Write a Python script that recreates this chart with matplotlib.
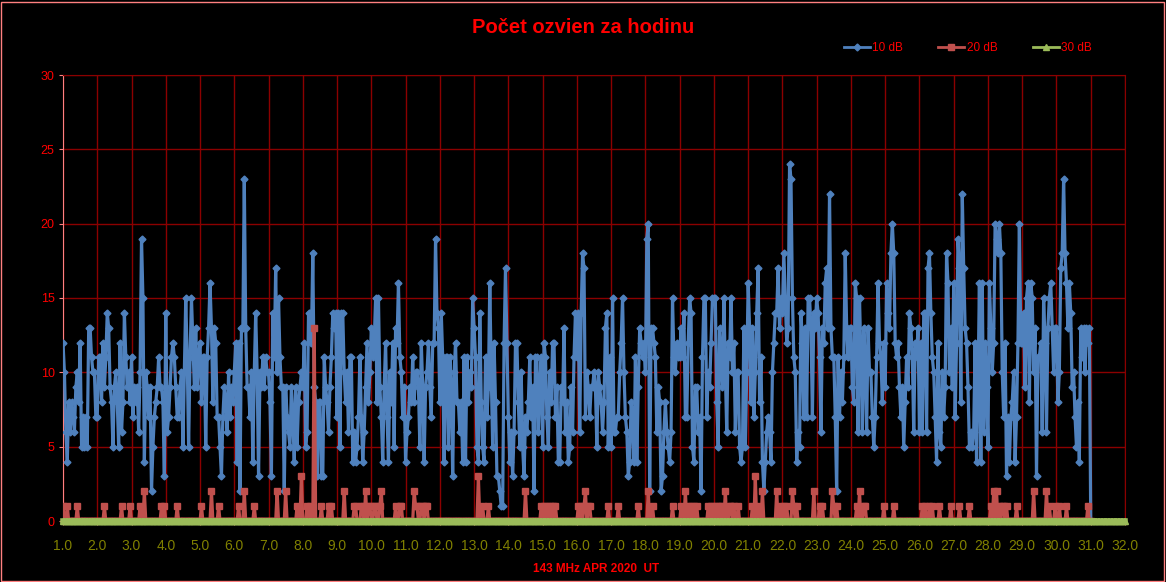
import numpy as np
import matplotlib.pyplot as plt
from matplotlib.patches import Rectangle
from matplotlib.lines import Line2D

plt.rcParams['font.family'] = ['Liberation Sans', 'DejaVu Sans']

# pocet ozvien 10 dB, po hodinach, jeden riadok = jeden den (1.-30. april)
den = [
    [12, 10, 6, 4, 8, 6, 8, 7, 6, 9, 10, 8, 12, 5, 7, 5, 7, 5, 13, 13, 11, 10, 10, 7],
    [7, 11, 11, 8, 12, 9, 11, 14, 13, 9, 8, 5, 9, 10, 8, 5, 12, 6, 8, 14, 11, 9, 10, 8],
    [11, 7, 9, 8, 9, 6, 10, 19, 15, 4, 10, 9, 7, 9, 2, 5, 7, 8, 9, 11, 9, 9, 8, 3],
    [14, 6, 7, 9, 11, 12, 11, 9, 7, 7, 9, 10, 5, 10, 15, 11, 5, 11, 15, 12, 9, 13, 9, 11],
    [12, 8, 11, 11, 5, 11, 13, 16, 13, 8, 13, 12, 7, 7, 5, 3, 7, 9, 8, 6, 10, 7, 9, 8],
    [10, 12, 4, 12, 2, 13, 13, 23, 13, 9, 9, 7, 10, 4, 10, 14, 10, 3, 10, 9, 11, 9, 11, 10],
    [10, 8, 3, 14, 11, 17, 10, 15, 11, 9, 9, 2, 9, 7, 6, 5, 9, 7, 4, 9, 5, 8, 9, 10],
    [9, 12, 5, 6, 14, 14, 12, 18, 9, 8, 3, 8, 8, 3, 3, 11, 9, 8, 6, 9, 11, 14, 13, 14],
    [7, 14, 5, 14, 14, 10, 8, 10, 6, 11, 11, 4, 6, 4, 5, 7, 11, 7, 4, 6, 9, 12, 8, 10],
    [13, 11, 12, 15, 8, 15, 9, 7, 4, 9, 12, 7, 4, 10, 8, 12, 5, 13, 12, 16, 11, 10, 7, 9],
    [4, 6, 7, 9, 8, 11, 8, 10, 10, 9, 5, 12, 9, 4, 9, 10, 12, 9, 7, 12, 12, 19, 14, 13],
    [8, 14, 11, 4, 11, 11, 5, 11, 9, 3, 10, 12, 8, 8, 6, 8, 4, 11, 4, 11, 8, 10, 9, 15],
    [13, 11, 5, 4, 14, 8, 5, 4, 11, 7, 9, 16, 10, 5, 12, 8, 3, 3, 2, 1, 1, 12, 17, 12],
    [7, 4, 6, 3, 6, 12, 12, 8, 5, 10, 5, 3, 7, 6, 8, 11, 7, 9, 2, 11, 11, 6, 9, 11],
    [5, 12, 11, 7, 5, 10, 8, 12, 12, 7, 9, 4, 4, 9, 8, 13, 6, 8, 4, 5, 9, 6, 11, 14],
    [11, 14, 6, 14, 18, 17, 7, 10, 9, 7, 9, 9, 10, 9, 5, 10, 9, 8, 6, 8, 13, 14, 5, 11],
    [5, 15, 6, 6, 7, 7, 10, 12, 15, 10, 7, 6, 3, 4, 8, 7, 4, 11, 4, 9, 13, 12, 11, 12],
    [10, 19, 20, 2, 13, 13, 12, 11, 6, 9, 8, 2, 3, 6, 8, 6, 5, 4, 6, 15, 11, 10, 12, 11],
    [11, 13, 11, 14, 7, 7, 12, 15, 14, 5, 4, 9, 9, 6, 7, 2, 11, 15, 15, 7, 10, 9, 12, 15],
    [15, 15, 8, 5, 13, 11, 9, 15, 10, 6, 12, 11, 15, 10, 12, 6, 10, 10, 5, 4, 5, 13, 5, 10],
    [16, 13, 8, 13, 7, 10, 14, 17, 8, 11, 4, 2, 4, 6, 7, 6, 4, 10, 12, 14, 14, 17, 13, 15],
    [14, 18, 15, 12, 13, 24, 23, 15, 11, 10, 4, 6, 5, 14, 12, 7, 13, 7, 15, 15, 13, 7, 14, 13],
    [15, 14, 11, 6, 13, 12, 16, 17, 13, 22, 13, 11, 11, 7, 2, 11, 7, 10, 8, 11, 18, 13, 11, 13],
    [13, 9, 8, 16, 15, 6, 15, 11, 6, 13, 11, 6, 13, 10, 10, 7, 5, 7, 11, 16, 12, 11, 8, 12],
    [9, 16, 14, 13, 18, 20, 18, 12, 11, 12, 9, 7, 9, 5, 8, 11, 9, 14, 13, 11, 6, 12, 11, 13],
    [6, 12, 6, 14, 14, 6, 17, 18, 14, 11, 10, 7, 4, 12, 6, 5, 10, 7, 9, 18, 16, 10, 13, 9],
    [16, 7, 12, 19, 17, 8, 22, 17, 13, 12, 9, 5, 6, 5, 6, 12, 4, 9, 16, 4, 16, 6, 12, 9],
    [5, 16, 13, 10, 12, 20, 19, 18, 20, 18, 10, 7, 12, 3, 7, 4, 7, 8, 10, 4, 7, 12, 20, 12],
    [12, 14, 9, 15, 16, 8, 16, 15, 10, 13, 3, 11, 11, 12, 6, 15, 12, 6, 13, 15, 16, 13, 10, 13],
    [13, 8, 10, 17, 18, 23, 18, 16, 13, 16, 14, 9, 10, 7, 5, 8, 4, 13, 11, 13, 10, 13, 12, 13],
]
posledna = [0]

# 20 dB: hodina (od 1.4. 00 UT) -> pocet, ostatne hodiny 0
ozveny20 = {
    0: 1, 3: 1, 10: 1, 29: 1, 41: 1, 47: 1, 54: 1, 57: 2, 69: 1, 71: 1, 80: 1,
    97: 1, 104: 2, 109: 1, 123: 1, 127: 2, 134: 1, 150: 2, 156: 2, 164: 1,
    167: 3, 171: 1, 173: 1, 176: 13, 181: 1, 186: 1, 188: 1, 197: 2, 204: 1,
    205: 1, 209: 1, 210: 1, 212: 2, 214: 1, 215: 1, 218: 1, 219: 1, 222: 1,
    223: 2, 233: 1, 236: 1, 237: 1, 246: 2, 247: 1, 248: 1, 251: 1, 252: 1,
    254: 1, 255: 1, 291: 3, 294: 1, 298: 1, 324: 2, 335: 1, 337: 1, 339: 1,
    341: 1, 343: 1, 345: 1, 361: 1, 363: 1, 365: 1, 366: 2, 368: 1, 369: 1,
    382: 1, 389: 1, 403: 1, 410: 2, 413: 1, 427: 1, 433: 1, 436: 2, 438: 1,
    440: 1, 442: 1, 444: 1, 452: 1, 454: 1, 456: 1, 458: 1, 460: 1, 462: 1,
    464: 2, 467: 1, 468: 1, 470: 1, 473: 1, 483: 1, 485: 3, 487: 1, 490: 2,
    500: 2, 503: 1, 505: 1, 507: 1, 511: 2, 512: 1, 514: 1, 526: 2, 530: 1,
    532: 1, 539: 2, 540: 1, 542: 1, 556: 1, 558: 2, 561: 1, 562: 1, 575: 1,
    582: 1, 602: 1, 604: 1, 607: 1, 609: 1, 614: 1, 622: 1, 628: 1, 635: 1,
    650: 1, 652: 2, 654: 2, 656: 1, 658: 1, 659: 1, 661: 1, 668: 1, 680: 2,
    689: 2, 691: 1, 695: 1, 698: 1, 703: 1, 718: 1,
}

# 30 dB: ziadne ozveny, rad pokracuje az po 32.0
hodin30 = 31 * 24 + 1

db10 = np.array(sum(den, []) + posledna, dtype=float)
n = len(db10)
x = 1 + np.arange(n) / 24.0
db20 = np.zeros(n)
for h, v in ozveny20.items():
    db20[h] = v
x30 = 1 + np.arange(hodin30) / 24.0
db30 = np.zeros(hodin30)

modra = '#4F81BD'
cervena = '#C0504D'
zelena = '#9BBB59'

fig = plt.figure(figsize=(11.66, 5.82), dpi=100, facecolor='black')
ax = fig.add_axes([63/1166, 1 - 521/582, (1125 - 63)/1166, (521 - 75)/582])
ax.set_facecolor('black')

ax.plot(x, db10, color=modra, lw=2.3, marker='D', ms=3.5, zorder=3)
ax.plot(x, db20, color=cervena, lw=2.3, marker='s', ms=5, zorder=4)
ax.plot(x30, db30, color=zelena, lw=4, marker='^', ms=4.5, zorder=5, clip_on=False)

ax.set_xlim(1, 32)
ax.set_ylim(0, 30)
ax.set_xticks(np.arange(1, 33))
ax.set_xticklabels([f'{v:.1f}' for v in range(1, 33)])
ax.set_yticks(np.arange(0, 31, 5))

ax.grid(True, color='#8B0000', lw=1)
ax.set_axisbelow(True)
for s in ['top', 'right', 'bottom']:
    ax.spines[s].set_color('#8B0000')
ax.spines['left'].set_color('#FF8080')
ax.tick_params(axis='x', colors='#FF8080', labelcolor='#808000', labelsize=10,
               length=3, pad=10)
ax.tick_params(axis='y', colors='#FF8080', labelcolor='red', labelsize=9,
               length=3, pad=3)

fig.text(0.5, 0.953, 'Počet ozvien za hodinu', color='red', fontsize=14.5,
         fontweight='bold', ha='center', va='center')
fig.text(0.511, 0.022, '143 MHz APR 2020  UT', color='red', fontsize=8.5,
         fontweight='bold', ha='center', va='center')

handles = [
    Line2D([], [], color=modra, lw=2, marker='D', ms=3.5),
    Line2D([], [], color=cervena, lw=2, marker='s', ms=5),
    Line2D([], [], color=zelena, lw=2, marker='^', ms=5),
]
leg = fig.legend(handles, ['10 dB', '20 dB', '30 dB'], ncol=3, frameon=False,
                 loc='center', bbox_to_anchor=(0.83, 0.917), fontsize=8.5,
                 handlelength=2.2, handletextpad=0.2, columnspacing=3.0)
for t in leg.get_texts():
    t.set_color('red')

fig.patches.append(Rectangle((0.001, 0.002), 0.997, 0.995, transform=fig.transFigure,
                             fill=False, edgecolor='#FF8080', lw=1))

fig.savefig('out.png', dpi=100, facecolor='black')
